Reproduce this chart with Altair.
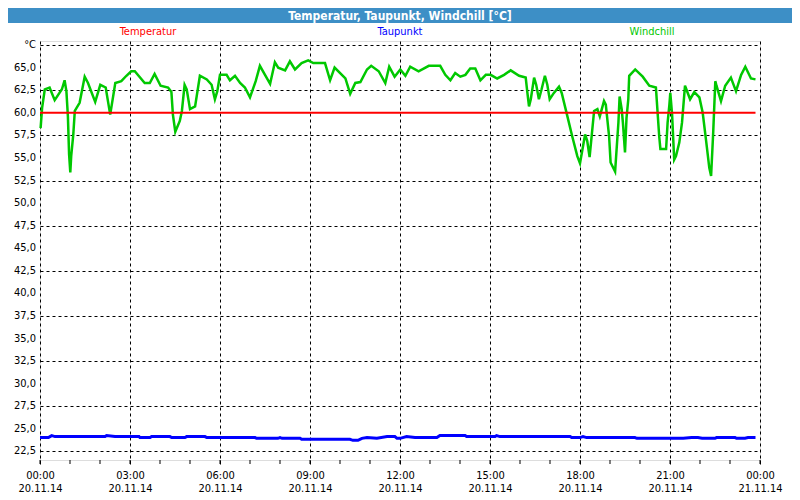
import altair as alt
import pandas as pd

# ---------------- data ----------------
chart_title = "Temperatur, Taupunkt, Windchill [°C]"
series = ["Temperatur", "Taupunkt", "Windchill"]
colors = ["#ff0000", "#0000ff", "#00c800"]

temp_hours = [0.0, 23.85]
temp_vals = [60.0, 60.0]

dew_hours = [0.0, 0.28, 0.39, 0.5, 2.17, 2.22, 2.5, 3.3, 3.33, 3.67, 3.72, 4.33, 4.39, 4.83,
             4.89, 5.5, 5.56, 7.17, 7.22, 7.93, 8.0, 8.07, 8.67, 8.72, 10.33, 10.43, 10.6,
             10.73, 10.9, 11.23, 11.57, 11.83, 11.9, 12.0, 12.22, 12.5, 13.23, 13.33, 14.17,
             14.22, 15.17, 15.22, 15.33, 17.67, 17.72, 18.0, 18.1, 18.22, 19.83, 19.9, 21.33,
             21.44, 21.72, 21.93, 22.07, 22.5, 22.55, 23.17, 23.22, 23.5, 23.6, 23.85]
dew_vals = [24.03, 24.03, 24.25, 24.14, 24.14, 24.25, 24.14, 24.14, 24.03, 24.03, 24.14, 24.14,
            24.03, 24.03, 24.14, 24.14, 24.03, 24.03, 23.95, 23.95, 24.03, 23.95, 23.95, 23.84,
            23.84, 23.73, 23.73, 23.95, 24.03, 23.95, 24.14, 24.14, 23.95, 23.95, 24.14, 24.03,
            24.03, 24.25, 24.25, 24.14, 24.14, 24.25, 24.14, 24.14, 24.03, 24.03, 24.14, 24.03,
            24.03, 23.95, 23.95, 23.95, 24.03, 24.03, 23.95, 23.95, 24.03, 24.03, 23.95, 23.95,
            24.03, 24.03]

wind_hours = [0.02, 0.07, 0.16, 0.32, 0.49, 0.73, 0.82, 0.88, 0.93, 0.97, 1.01, 1.04, 1.11, 1.16,
              1.32, 1.49, 1.6, 1.84, 2.01, 2.19, 2.34, 2.51, 2.71, 2.88, 3.04, 3.16, 3.49, 3.66,
              3.82, 4.02, 4.27, 4.38, 4.43, 4.51, 4.66, 4.73, 4.82, 4.89, 5.0, 5.17, 5.33, 5.56,
              5.72, 5.83, 5.91, 6.0, 6.22, 6.33, 6.5, 6.67, 6.83, 7.0, 7.19, 7.33, 7.5, 7.67,
              7.83, 7.94, 8.17, 8.33, 8.5, 8.72, 8.94, 9.11, 9.5, 9.67, 9.82, 10.18, 10.34,
              10.51, 10.68, 10.9, 11.04, 11.29, 11.51, 11.64, 11.82, 12.01, 12.18, 12.34, 12.62,
              12.96, 13.34, 13.51, 13.68, 13.84, 14.01, 14.18, 14.34, 14.51, 14.68, 14.86, 15.02,
              15.24, 15.47, 15.69, 15.97, 16.19, 16.24, 16.3, 16.36, 16.47, 16.54, 16.63, 16.72,
              16.83, 16.91, 16.99, 17.13, 17.3, 17.39, 17.58, 17.74, 17.91, 18.0, 18.08, 18.17,
              18.24, 18.32, 18.47, 18.58, 18.66, 18.8, 18.86, 18.97, 19.02, 19.17, 19.28, 19.32,
              19.39, 19.43, 19.5, 19.55, 19.61, 19.64, 19.84, 20.09, 20.31, 20.53, 20.64, 20.68,
              20.87, 20.92, 20.98, 21.01, 21.07, 21.14, 21.2, 21.31, 21.4, 21.5, 21.67, 21.81,
              21.98, 22.09, 22.2, 22.31, 22.37, 22.44, 22.51, 22.55, 22.7, 22.84, 23.03, 23.2,
              23.37, 23.51, 23.7, 23.85]
wind_vals = [58.3, 60.55, 62.6, 62.8, 61.4, 62.6, 63.6, 62.4, 59.6, 55.4, 53.4, 55.2, 57.6, 60.2,
             61.1, 64.0, 63.3, 61.2, 63.1, 62.8, 59.8, 63.3, 63.5, 64.1, 64.6, 64.6, 63.3, 63.3,
             64.3, 63.0, 62.8, 62.3, 59.8, 57.9, 59.1, 60.2, 63.1, 62.6, 60.4, 60.7, 64.1, 63.7,
             63.1, 61.5, 62.4, 64.2, 64.2, 63.6, 64.1, 63.3, 62.8, 61.7, 63.5, 65.2, 64.2, 63.2,
             65.6, 65.0, 64.7, 65.7, 64.8, 65.5, 65.8, 65.5, 65.5, 63.6, 65.0, 63.8, 62.1,
             63.3, 63.4, 64.8, 65.2, 64.6, 63.3, 65.1, 64.0, 64.8, 64.1, 65.1, 64.6,
             65.2, 65.2, 64.2, 63.6, 64.4, 64.0, 64.2, 64.9, 64.9, 63.6, 64.2, 64.2,
             63.8, 64.2, 64.7, 64.1, 63.9, 62.4, 60.7, 61.5, 63.9, 63.1, 61.5, 62.6,
             64.1, 63.1, 61.5, 62.2, 62.9, 62.2, 59.6, 57.4, 55.2, 54.4, 55.9, 57.6,
             56.9, 55.1, 60.2, 60.4, 59.6, 61.3, 60.9, 57.4, 54.5, 53.5, 58.9, 61.8,
             60.4, 58.9, 55.6, 59.4, 61.5, 64.1, 64.8, 64.0, 63.0, 62.8, 57.4, 56.0,
             56.0, 58.9, 60.9, 62.2, 59.8, 54.8, 55.2, 56.7, 58.9, 63.0, 61.5, 62.3,
             61.7, 60.0, 57.0, 53.9, 53.0, 57.8, 63.5, 63.0, 61.3, 63.0, 63.9, 62.4,
             64.2, 65.1, 63.8, 63.7]

y_ticks = [22.5, 25.0, 27.5, 30.0, 32.5, 35.0, 37.5, 40.0, 42.5, 45.0, 47.5, 50.0, 52.5, 55.0,
           57.5, 60.0, 62.5, 65.0, 67.5]
y_labels = ["22,5", "25,0", "27,5", "30,0", "32,5", "35,0", "37,5", "40,0", "42,5", "45,0",
            "47,5", "50,0", "52,5", "55,0", "57,5", "60,0", "62,5", "65,0", "°C"]
x_ticks = [0, 3, 6, 9, 12, 15, 18, 21, 24]
time_labels = ["00:00", "03:00", "06:00", "09:00", "12:00", "15:00", "18:00", "21:00", "00:00"]
date_labels = ["20.11.14"] * 8 + ["21.11.14"]
minor_hours = list(range(25))

# ---------------- chart ----------------
W, H = 720, 419
FONT = "DejaVu Sans Condensed"
BAR = "#3d8fc6"

xs = alt.Scale(domain=[0, 24], nice=False, zero=False)
ys = alt.Scale(domain=[21.55, 67.95], nice=False, zero=False)

step = x_ticks[1] - x_ticks[0]
times_js = "[" + ",".join(f"'{t}'" for t in time_labels) + "]"
dates_js = "[" + ",".join(f"'{d}'" for d in date_labels) + "]"
idx = f"round((datum.value - {x_ticks[0]}) / {step})"
x_label_expr = f"[{times_js}[{idx}], {dates_js}[{idx}]]"

x_axis = alt.Axis(values=x_ticks, grid=True, gridDash=[3, 3], gridColor="black", gridOpacity=1,
                  gridWidth=1, tickSize=4, tickColor="black", domain=False,
                  labelExpr=x_label_expr, labelFont=FONT, labelFontSize=11, labelColor="black",
                  labelPadding=5, labelLineHeight=13, labelFlush=False, labelOverlap=False,
                  title=None)
y_axis = alt.Axis(values=y_ticks, grid=True, gridDash=[3, 3], gridColor="black", gridOpacity=1,
                  gridWidth=1, ticks=False, domain=False, labels=False, title=None)

df_temp = pd.DataFrame({"h": temp_hours, "v": temp_vals})
df_dew = pd.DataFrame({"h": dew_hours, "v": dew_vals})
df_wind = pd.DataFrame({"h": wind_hours, "v": wind_vals})
df_minor = pd.DataFrame({"h": minor_hours})
df_ylab = pd.DataFrame({"v": y_ticks, "lab": y_labels})

wind_line = alt.Chart(df_wind).mark_line(color=colors[2], strokeWidth=2.5).encode(
    x=alt.X("h:Q", scale=xs, axis=x_axis),
    y=alt.Y("v:Q", scale=ys, axis=y_axis),
)
dew_line = alt.Chart(df_dew).mark_line(color=colors[1], strokeWidth=3).encode(
    x=alt.X("h:Q", scale=xs), y=alt.Y("v:Q", scale=ys))
temp_line = alt.Chart(df_temp).mark_line(color=colors[0], strokeWidth=2).encode(
    x=alt.X("h:Q", scale=xs), y=alt.Y("v:Q", scale=ys))

minor = alt.Chart(df_minor).mark_rule(color="black", strokeWidth=1).encode(
    x=alt.X("h:Q", scale=xs), y=alt.value(H), y2=alt.value(H + 4))

ylabels = alt.Chart(df_ylab).mark_text(
    color="black", font=FONT, fontSize=11, align="right", baseline="middle"
).encode(y=alt.Y("v:Q", scale=ys), x=alt.value(-4), text="lab:N")

df_title = pd.DataFrame({"t": [chart_title]})
bar = alt.Chart(df_title).mark_rect(color=BAR).encode(
    x=alt.value(-32), x2=alt.value(W + 32), y=alt.value(-33), y2=alt.value(-18))
title_txt = alt.Chart(df_title).mark_text(
    color="white", font=FONT, fontSize=12, fontWeight="bold", baseline="middle", align="center"
).encode(text="t:N", x=alt.value(W / 2), y=alt.value(-25))

legend_x = [108, 360, 612]
legend_layers = []
for name, col, lx in zip(series, colors, legend_x):
    legend_layers.append(
        alt.Chart(pd.DataFrame({"n": [name]})).mark_text(
            color=col, font=FONT, fontSize=11, baseline="middle", align="center"
        ).encode(text="n:N", x=alt.value(lx), y=alt.value(-9))
    )

chart = alt.layer(
    wind_line, dew_line, temp_line, minor, ylabels, bar, title_txt, *legend_layers
).properties(
    width=W, height=H,
    padding={"left": 32, "top": 33, "right": 32, "bottom": 36},
    autosize=alt.AutoSizeParams(type="none"),
).configure_view(stroke="black", strokeWidth=1, fill="white").configure(background="white")

chart.save("out.html", embed_options={"renderer": "svg", "actions": False})
